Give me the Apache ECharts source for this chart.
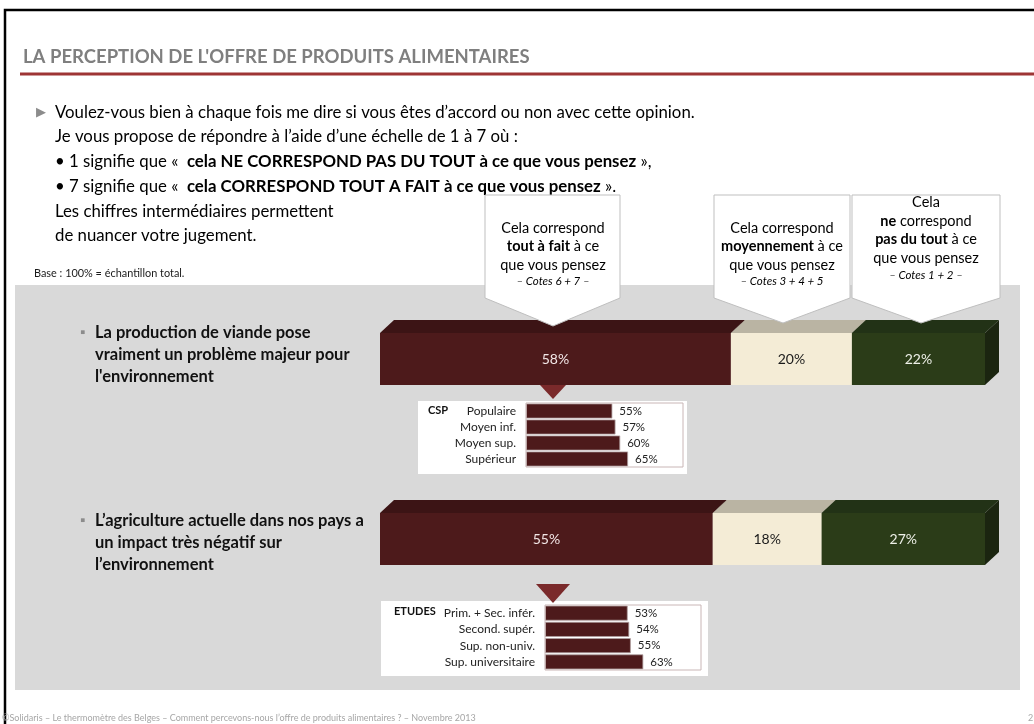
<!DOCTYPE html>
<html>
<head>
<meta charset="utf-8">
<script src="https://cdn.jsdelivr.net/npm/echarts@6/dist/echarts.min.js"></script>
<style>
  html, body { margin: 0; padding: 0; background: #fff; }
  #chart { width: 1034px; height: 724px; }
</style>
</head>
<body>
<div id="chart"></div>
<script>
// statements (main stacked bars)
const statements = [
  "La production de viande pose\nvraiment un problème majeur pour\nl'environnement",
  "L’agriculture actuelle dans nos pays a\nun impact très négatif sur\nl’environnement"
];
const toutAFait = [58, 55];    // cotes 6 + 7
const moyennement = [20, 18];  // cotes 3 + 4 + 5
const pasDuTout = [22, 27];    // cotes 1 + 2

// detail insets
const cspLabels = ['Populaire', 'Moyen inf.', 'Moyen sup.', 'Supérieur'];
const cspValues = [55, 57, 60, 65];
const etudesLabels = ['Prim. + Sec. infér.', 'Second. supér.', 'Sup. non-univ.', 'Sup. universitaire'];
const etudesValues = [53, 54, 55, 63];

const FONT = 'Lato, "Open Sans", sans-serif';
const chart = echarts.init(document.getElementById('chart'), null, { renderer: 'canvas' });

// 3D look for the big bars
const DX = 14, DY = 13, BAR_H = 52;
const render3d = (c) => (params, api) => {
  const row = api.value(0);
  const a = api.coord([api.value(1), row]);
  const b = api.coord([api.value(2), row]);
  const x0 = a[0], x1 = b[0];
  const top = a[1] - BAR_H / 2, bot = a[1] + BAR_H / 2;
  return {
    type: 'group',
    children: [
      { type: 'polygon', shape: { points: [[x0, top], [x0 + DX, top - DY], [x1 + DX, top - DY], [x1, top]] }, style: { fill: c.top } },
      { type: 'polygon', shape: { points: [[x1, top], [x1 + DX, top - DY], [x1 + DX, bot - DY], [x1, bot]] }, style: { fill: c.side } },
      { type: 'rect', shape: { x: x0, y: top, width: x1 - x0, height: BAR_H }, style: { fill: c.front } },
      { type: 'text', x: (x0 + x1) / 2, y: a[1], style: { text: api.value(3) + '%', fill: c.label, font: '14px ' + FONT, align: 'center', verticalAlign: 'middle' } }
    ]
  };
};

const segments = [toutAFait, moyennement, pasDuTout];
const segColors = [
  { front: '#4d1a1b', top: '#3c1415', side: '#2e0f10', label: '#f2e6e6' },
  { front: '#f4ecd6', top: '#bab4a3', side: '#a9a38f', label: '#1a1a1a' },
  { front: '#2b3c18', top: '#223216', side: '#1b2510', label: '#eef0e8' }
];
const mainSeries = segments.map((vals, k) => ({
  type: 'custom',
  xAxisIndex: 0,
  yAxisIndex: 0,
  renderItem: render3d(segColors[k]),
  encode: { x: [1, 2], y: 0 },
  data: vals.map((v, i) => {
    let start = 0;
    for (let j = 0; j < k; j++) start += segments[j][i];
    return [i, start, start + v, v];
  })
}));

const insetSeries = (values, idx) => ({
  type: 'bar',
  xAxisIndex: idx,
  yAxisIndex: idx,
  data: values,
  barWidth: 15,
  itemStyle: { color: '#4d1a1b', borderColor: '#b0a0a0', borderWidth: 0.8 },
  label: { show: true, position: 'right', distance: 7, formatter: '{c}%', fontFamily: FONT, fontSize: 11.5, color: '#222' }
});

const insetYAxis = (labels, idx) => ({
  type: 'category', gridIndex: idx, data: labels, inverse: true, z: 10,
  axisLine: { show: false }, axisTick: { show: false },
  axisLabel: { margin: 10, fontFamily: FONT, fontSize: 12, color: '#222' }
});

const rich = {
  n: { fontFamily: FONT, fontSize: 14.5, color: '#1a1a1a', lineHeight: 18.5 },
  b: { fontFamily: FONT, fontSize: 14.5, fontWeight: 'bold', color: '#1a1a1a', lineHeight: 18.5 },
  i: { fontFamily: FONT, fontSize: 11.5, fontStyle: 'italic', color: '#1a1a1a', lineHeight: 15 }
};
const callout = (pts, cx, cy, text) => [
  { type: 'polygon', z: 20, shape: { points: pts }, style: { fill: '#fff', stroke: '#bfbfbf', lineWidth: 1 } },
  { type: 'text', z: 21, x: cx, y: cy, style: { text: text, rich: rich, align: 'center', verticalAlign: 'middle' } }
];

const qRich = {
  n: { fontFamily: FONT, fontSize: 16.8, color: '#1a1a1a', lineHeight: 24.7 },
  bd: { fontFamily: FONT, fontSize: 16.8, fontWeight: 'bold', color: '#1a1a1a', lineHeight: 24.7 }
};
const question = [
  '{n|Voulez-vous bien à chaque fois me dire si vous êtes d’accord ou non avec cette opinion.}',
  '{n|Je vous propose de répondre à l’aide d’une échelle de 1 à 7 où :}',
  '{n|• 1 signifie que «  }{bd|cela NE CORRESPOND PAS DU TOUT à ce que vous pensez}{n| »,}',
  '{n|• 7 signifie que «  }{bd|cela CORRESPOND TOUT A FAIT à ce que vous pensez}{n| ».}',
  '{n|Les chiffres intermédiaires permettent}',
  '{n|de nuancer votre jugement.}'
].join('\n');

const option = {
  backgroundColor: '#fff',
  animation: false,
  grid: [
    { left: 380, top: 269, width: 605, height: 360 },
    { left: 526, top: 403, width: 157, height: 64, show: true, z: 5, backgroundColor: 'transparent', borderColor: '#c9b6b6', borderWidth: 1 },
    { left: 545, top: 605, width: 156, height: 65, show: true, z: 5, backgroundColor: 'transparent', borderColor: '#c9b6b6', borderWidth: 1 }
  ],
  xAxis: [0, 1, 2].map(i => ({ type: 'value', gridIndex: i, min: 0, max: 100, show: false })),
  yAxis: [
    {
      type: 'category', gridIndex: 0, data: statements, inverse: true,
      axisLine: { show: false }, axisTick: { show: false },
      axisLabel: {
        align: 'left', margin: 300,
        formatter: (v, idx) => {
          const lines = v.split('\n').map((l, i) => (i === 0 ? '{m|▪}' : '{s|\u00a0}') + '{t|' + l + '}');
          // small spacer line nudges each block to sit like the original
          if (idx === 0) lines.push('{g|\u00a0}'); else lines.unshift('{g|\u00a0}');
          return lines.join('\n');
        },
        rich: {
          m: { width: 15, fontSize: 15, color: '#8c8c8c', lineHeight: 22 },
          s: { width: 15, fontSize: 11, lineHeight: 22 },
          g: { fontSize: 4, lineHeight: 8 },
          t: { fontFamily: FONT, fontSize: 16.5, fontWeight: 'bold', color: '#111', lineHeight: 22 }
        }
      }
    },
    insetYAxis(cspLabels, 1),
    insetYAxis(etudesLabels, 2)
  ],
  series: [...mainSeries, insetSeries(cspValues, 1), insetSeries(etudesValues, 2)],
  graphic: [
    // slide frame + header
    { type: 'rect', z: 0, shape: { x: 5, y: 10, width: 1200, height: 900 }, style: { fill: 'none', stroke: '#000', lineWidth: 2.5 } },
    { type: 'text', z: 1, x: 23, y: 57, style: { text: "LA PERCEPTION DE L'OFFRE DE PRODUITS ALIMENTAIRES", font: 'bold 18.5px ' + FONT, fill: '#7f7f7f', verticalAlign: 'middle' } },
    { type: 'line', z: 1, shape: { x1: 20, y1: 74, x2: 1034, y2: 74 }, style: { stroke: '#9e3535', lineWidth: 3 } },
    { type: 'text', z: 1, x: 36, y: 112, style: { text: '▶', font: '13px ' + FONT, fill: '#8c8c8c', verticalAlign: 'middle' } },
    { type: 'text', z: 1, x: 55, y: 100, style: { text: question, rich: qRich, verticalAlign: 'top' } },
    { type: 'text', z: 1, x: 34, y: 273, style: { text: 'Base : 100% = échantillon total.', font: '10.9px ' + FONT, fill: '#1a1a1a', verticalAlign: 'middle' } },
    // grey panel
    { type: 'rect', z: 0, shape: { x: 15, y: 285, width: 1005, height: 405 }, style: { fill: '#d9d9d9' } },
    // inset boxes
    { type: 'rect', z: 1, shape: { x: 418, y: 401, width: 269, height: 73 }, style: { fill: '#fff' } },
    { type: 'text', z: 6, x: 428, y: 410, style: { text: 'CSP', font: 'bold 11px ' + FONT, fill: '#111', verticalAlign: 'middle' } },
    { type: 'rect', z: 1, shape: { x: 381, y: 601, width: 327, height: 75 }, style: { fill: '#fff' } },
    { type: 'text', z: 6, x: 394, y: 611, style: { text: 'ETUDES', font: 'bold 11px ' + FONT, fill: '#111', verticalAlign: 'middle' } },
    // pointers to insets
    { type: 'polygon', z: 10, shape: { points: [[540, 385], [566, 385], [553, 399]] }, style: { fill: '#7a2a2b' } },
    { type: 'polygon', z: 10, shape: { points: [[536, 584], [570, 584], [553, 603]] }, style: { fill: '#7a2a2b' } },
    // callouts
    ...callout([[485, 195], [620, 195], [620, 298], [553, 326], [485, 298]], 553, 254,
      '{n|Cela correspond}\n{b|tout à fait}{n| à ce}\n{n|que vous pensez}\n{i|– Cotes 6 + 7 –}'),
    ...callout([[714, 195], [850, 195], [850, 298], [783, 323], [714, 298]], 782, 254,
      '{n|Cela correspond}\n{b|moyennement}{n| à ce}\n{n|que vous pensez}\n{i|– Cotes 3 + 4 + 5}'),
    ...callout([[852, 195], [1000, 195], [1000, 298], [921, 323], [852, 298]], 926, 238,
      '{n|Cela}\n{b|ne}{n| correspond}\n{b|pas du tout}{n| à ce}\n{n|que vous pensez}\n{i|– Cotes 1 + 2 –}'),
    // footer
    { type: 'text', z: 1, x: 2, y: 718, style: { text: '©Solidaris – Le thermomètre des Belges – Comment percevons-nous l’offre de produits alimentaires ? – Novembre 2013', font: '9px ' + FONT, fill: '#a6a6a6', verticalAlign: 'middle' } },
    { type: 'text', z: 1, x: 1028, y: 718, style: { text: '2', font: '9px ' + FONT, fill: '#a6a6a6', verticalAlign: 'middle' } }
  ]
};

chart.setOption(option);
</script>
</body>
</html>
